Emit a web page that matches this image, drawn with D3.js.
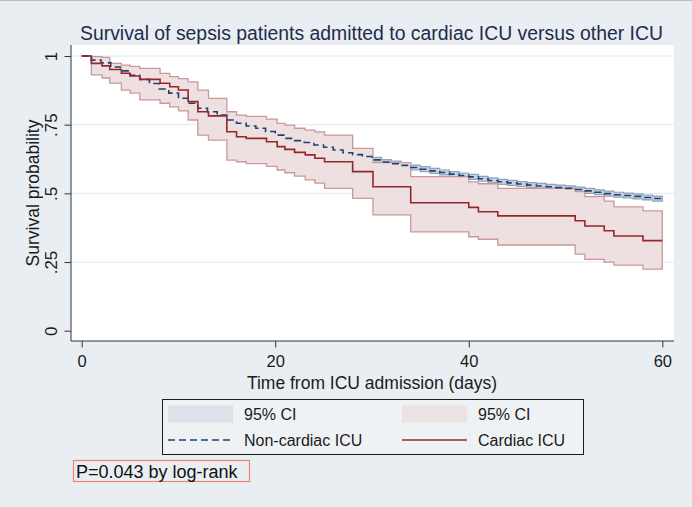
<!DOCTYPE html>
<html>
<head>
<meta charset="utf-8">
<script src="https://cdn.jsdelivr.net/npm/d3@7"></script>
<style>
  body { margin: 0; background: #e9eef2; }
  svg { display: block; font-family: "Liberation Sans", Arial, sans-serif; }
</style>
</head>
<body>
<script>
// Kaplan-Meier data

// cardiac ICU: step times (days) and survival, with 95% CI
const redTime  = [0, 1.0, 2.1, 2.9, 4.1, 5.0, 6.0, 8.1, 9.1, 10.0, 11.0, 12.0, 13.1, 15.0, 16.0, 17.0, 19.1, 20.2, 21.0, 22.0, 23.1, 24.1, 25.1, 28.0, 30.1, 34.0, 40.0, 41.0, 43.0, 51.0, 52.0, 54.0, 55.0, 58.0, 60];
const redSurv  = [1.0, 0.973, 0.964, 0.951, 0.937, 0.927, 0.915, 0.901, 0.888, 0.876, 0.834, 0.797, 0.782, 0.724, 0.706, 0.700, 0.688, 0.670, 0.660, 0.649, 0.640, 0.628, 0.615, 0.579, 0.524, 0.466, 0.449, 0.433, 0.418, 0.400, 0.381, 0.364, 0.345, 0.328, 0.328];
const redUpper = [1.0, 0.998, 0.995, 0.973, 0.967, 0.962, 0.955, 0.937, 0.925, 0.918, 0.906, 0.876, 0.846, 0.797, 0.785, 0.780, 0.770, 0.755, 0.748, 0.737, 0.730, 0.724, 0.712, 0.664, 0.612, 0.561, 0.542, 0.535, 0.518, 0.506, 0.488, 0.472, 0.451, 0.436, 0.436];
const redLower = [1.0, 0.931, 0.920, 0.901, 0.876, 0.865, 0.840, 0.828, 0.815, 0.800, 0.767, 0.712, 0.694, 0.621, 0.615, 0.608, 0.598, 0.585, 0.575, 0.563, 0.549, 0.537, 0.518, 0.482, 0.422, 0.360, 0.342, 0.333, 0.312, 0.279, 0.260, 0.250, 0.239, 0.224, 0.224];

// non-cardiac ICU: survival at each day 0..60, with 95% CI
const blueTime  = d3.range(0, 61);
const blueSurv  = [1.0, 0.985, 0.975, 0.96, 0.946, 0.93, 0.915, 0.90, 0.88, 0.865, 0.846, 0.828, 0.81, 0.797, 0.785, 0.767, 0.755, 0.745, 0.737, 0.725, 0.712, 0.70, 0.692, 0.685, 0.676, 0.668, 0.658, 0.648, 0.641, 0.634, 0.622, 0.614, 0.608, 0.602, 0.594, 0.588, 0.582, 0.576, 0.570, 0.565, 0.560, 0.553, 0.547, 0.542, 0.538, 0.534, 0.530, 0.527, 0.524, 0.521, 0.518, 0.514, 0.509, 0.504, 0.499, 0.495, 0.492, 0.489, 0.485, 0.481, 0.478];
const blueUpper = [1.0, 0.989, 0.979, 0.964, 0.950, 0.934, 0.920, 0.905, 0.885, 0.870, 0.851, 0.833, 0.815, 0.802, 0.790, 0.772, 0.761, 0.751, 0.743, 0.731, 0.718, 0.707, 0.699, 0.692, 0.683, 0.675, 0.665, 0.656, 0.649, 0.642, 0.631, 0.623, 0.617, 0.611, 0.603, 0.597, 0.591, 0.585, 0.579, 0.574, 0.569, 0.562, 0.556, 0.551, 0.547, 0.543, 0.539, 0.536, 0.533, 0.530, 0.527, 0.523, 0.518, 0.513, 0.508, 0.504, 0.501, 0.498, 0.494, 0.490, 0.487];
const blueLower = [1.0, 0.981, 0.971, 0.956, 0.942, 0.926, 0.910, 0.895, 0.875, 0.860, 0.841, 0.823, 0.805, 0.792, 0.780, 0.762, 0.749, 0.739, 0.731, 0.719, 0.706, 0.693, 0.685, 0.678, 0.669, 0.661, 0.651, 0.640, 0.633, 0.626, 0.613, 0.605, 0.599, 0.593, 0.585, 0.579, 0.573, 0.567, 0.561, 0.556, 0.551, 0.544, 0.538, 0.533, 0.529, 0.525, 0.521, 0.518, 0.515, 0.512, 0.509, 0.505, 0.500, 0.495, 0.490, 0.486, 0.483, 0.480, 0.476, 0.472, 0.469];

const xTicks = [0, 20, 40, 60];
const yTicks = [0, 0.25, 0.5, 0.75, 1];
const yTickLabels = ["0", ".25", ".5", ".75", "1"];

const W = 692, H = 507;
const plot = {left: 71, right: 674, top: 45, bottom: 341};

const svg = d3.select("body").append("svg")
    .attr("width", W)
    .attr("height", H);

svg.append("rect").attr("width", W).attr("height", H).attr("fill", "#e9eef2");
svg.append("line").attr("x1", 0).attr("x2", W).attr("y1", 0.5).attr("y2", 0.5).attr("stroke", "#b9bec2");

// scales
const x = d3.scaleLinear().domain([0, 60]).range([81.7, 662.3]);
const y = d3.scaleLinear().domain([0, 1]).range([330.7, 56]);

// plot region
svg.append("rect")
    .attr("x", plot.left).attr("y", plot.top)
    .attr("width", plot.right - plot.left).attr("height", plot.bottom - plot.top)
    .attr("fill", "#ffffff");

// gridlines
svg.append("g").selectAll("line")
    .data(yTicks.slice(1))
    .join("line")
    .attr("x1", plot.left).attr("x2", plot.right)
    .attr("y1", d => y(d)).attr("y2", d => y(d))
    .attr("stroke", "#e6eef2").attr("stroke-width", 1.3);

// build row objects
const red = redTime.map((t, i) => ({t: t, s: redSurv[i], lo: redLower[i], hi: redUpper[i]}));
const blue = blueTime.map((t, i) => ({t: t, s: blueSurv[i], lo: blueLower[i], hi: blueUpper[i]}));

const band = d3.area()
    .curve(d3.curveStepAfter)
    .x(d => x(d.t))
    .y0(d => y(d.lo))
    .y1(d => y(d.hi));

const km = d3.line()
    .curve(d3.curveStepAfter)
    .x(d => x(d.t))
    .y(d => y(d.s));

// CI bands: blue first, the cardiac band covers it
svg.append("path")
    .datum(blue)
    .attr("d", band)
    .attr("fill", "#c8d2de")
    .attr("stroke", "#8fa2bb")
    .attr("stroke-width", 1.2);

svg.append("path")
    .datum(red)
    .attr("d", band)
    .attr("fill", "#eee0e1")
    .attr("stroke", "#c9989a")
    .attr("stroke-width", 1.3);

// survival lines
svg.append("path")
    .datum(blue)
    .attr("d", km)
    .attr("fill", "none")
    .attr("stroke", "#1f4172")
    .attr("stroke-width", 1.6)
    .attr("stroke-dasharray", "7,4");

svg.append("path")
    .datum(red)
    .attr("d", km)
    .attr("fill", "none")
    .attr("stroke", "#93282c")
    .attr("stroke-width", 1.6);

// axes
const yAxis = d3.axisLeft(y)
    .tickValues(yTicks)
    .tickSize(6.5)
    .tickFormat((d, i) => yTickLabels[i]);
const gy = svg.append("g")
    .attr("transform", `translate(${plot.left},0)`)
    .call(yAxis);
gy.select(".domain").attr("d", `M0,${plot.top}V${plot.bottom}`).attr("stroke", "#333");
gy.selectAll(".tick line").attr("stroke", "#333");
gy.selectAll(".tick text")
    .attr("transform", "rotate(-90)")
    .attr("x", 0).attr("y", -14).attr("dy", null)
    .attr("text-anchor", "middle")
    .attr("font-size", 17).attr("font-family", null)
    .attr("fill", "#1b1b1b");

const xAxis = d3.axisBottom(x)
    .tickValues(xTicks)
    .tickSize(6.5)
    .tickFormat(d3.format("d"));
const gx = svg.append("g")
    .attr("transform", `translate(0,${plot.bottom})`)
    .call(xAxis);
gx.select(".domain").attr("d", `M${plot.left},0H${plot.right}`).attr("stroke", "#333");
gx.selectAll(".tick line").attr("stroke", "#333");
gx.selectAll(".tick text")
    .attr("y", 25.5).attr("dy", null)
    .attr("font-size", 16.5).attr("font-family", null)
    .attr("fill", "#1b1b1b");

// titles
svg.append("text")
    .attr("x", 371.5).attr("y", 40)
    .attr("text-anchor", "middle")
    .attr("font-size", 19.4)
    .attr("fill", "#1f2b4d")
    .text("Survival of sepsis patients admitted to cardiac ICU versus other ICU");

svg.append("text")
    .attr("x", 372).attr("y", 388.5)
    .attr("text-anchor", "middle")
    .attr("font-size", 17.5)
    .attr("fill", "#1b1b1b")
    .text("Time from ICU admission (days)");

svg.append("text")
    .attr("transform", `translate(39,193) rotate(-90)`)
    .attr("text-anchor", "middle")
    .attr("font-size", 17.5)
    .attr("fill", "#1b1b1b")
    .text("Survival probability");

// legend
const lg = svg.append("g");
lg.append("rect")
    .attr("x", 162.5).attr("y", 399.5).attr("width", 421).attr("height", 55)
    .attr("fill", "#eef2f5").attr("stroke", "#1b1b1b");

const legendItems = [
    {col: 0, row: 0, kind: "band", fill: "#dce2ea", label: "95% CI"},
    {col: 1, row: 0, kind: "band", fill: "#ece2e3", label: "95% CI"},
    {col: 0, row: 1, kind: "line", stroke: "#1f4172", dash: "7,4", label: "Non-cardiac ICU"},
    {col: 1, row: 1, kind: "line", stroke: "#93282c", dash: null, label: "Cardiac ICU"}
];
const colX = [168, 402];
const rowY = [414, 440];
legendItems.forEach(d => {
    const x0 = colX[d.col], yc = rowY[d.row];
    if (d.kind === "band") {
        lg.append("rect").attr("x", x0).attr("y", yc - 8.5).attr("width", 65).attr("height", 17).attr("fill", d.fill);
    } else {
        lg.append("line").attr("x1", x0).attr("x2", x0 + 65).attr("y1", yc).attr("y2", yc)
            .attr("stroke", d.stroke).attr("stroke-width", 1.6).attr("stroke-dasharray", d.dash);
    }
    lg.append("text")
        .attr("x", x0 + 76).attr("y", yc + 6)
        .attr("font-size", 16)
        .attr("fill", "#1b1b1b")
        .text(d.label);
});

// p-value note
svg.append("rect")
    .attr("x", 73.5).attr("y", 460.5).attr("width", 176).attr("height", 21)
    .attr("fill", "none").attr("stroke", "#e8866e").attr("stroke-width", 1.2);
svg.append("text")
    .attr("x", 76).attr("y", 478)
    .attr("font-size", 18)
    .attr("fill", "#111")
    .text("P=0.043 by log-rank");
</script>
</body>
</html>
